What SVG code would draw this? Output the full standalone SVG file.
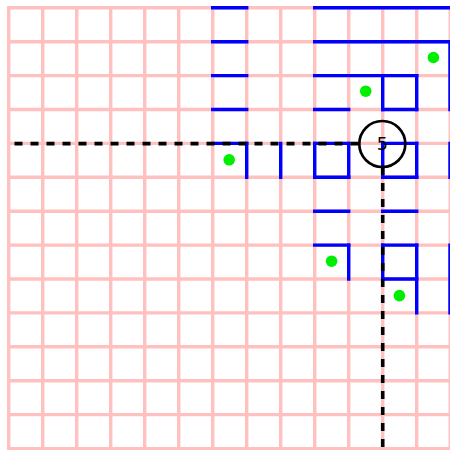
<svg xmlns="http://www.w3.org/2000/svg" width="450" height="450" viewBox="0 0 450 450">
<style>
.g{stroke:#FFC0C0;stroke-width:3.4;fill:none}
.w{stroke:#0000FF;stroke-width:3.4;fill:none;stroke-linecap:square}
.d{fill:#00EE00}
.c{stroke:#000;stroke-width:3.6;stroke-dasharray:8 8;fill:none}
</style>
<rect width="450" height="450" fill="#fff"/>
<g id="grid" class="g">
<path d="M8.7 6.3V452M42.7 6.3V452M76.7 6.3V452M110.7 6.3V452M144.7 6.3V452M178.7 6.3V452M212.7 6.3V452M246.7 6.3V452M280.7 6.3V452M314.7 6.3V452M348.7 6.3V452M382.7 6.3V452M416.7 6.3V452M450.2 6.3V452"/>
<path d="M7 7.8H452M7 41.7H452M7 75.6H452M7 109.5H452M7 143.4H452M7 177.3H452M7 211.2H452M7 245.1H452M7 279H452M7 312.9H452M7 346.8H452M7 380.7H452M7 414.6H452M7 448.7H452"/>
</g>
<g id="walls" class="w">
<path d="M212.7 7.8H246.7M314.7 7.8H452M212.7 41.7H246.7M314.7 41.7H452M212.7 75.6H246.7M314.7 75.6H416.7M212.7 109.5H246.7M314.7 109.5H348.7M382.7 109.5H416.7M212.7 143.4H246.7M314.7 143.4H348.7M382.7 143.4H416.7M314.7 177.3H348.7M382.7 177.3H416.7M314.7 211.2H348.7M382.7 211.2H416.7M314.7 245.1H348.7M382.7 245.1H416.7M382.7 279H416.7"/>
<path d="M246.7 143.4V177.3M280.7 143.4V177.3M314.7 143.4V177.3M348.7 143.4V177.3M348.7 245.1V279M382.7 75.6V109.5M382.7 143.4V177.3M382.7 245.1V279M416.7 75.6V109.5M416.7 143.4V177.3M416.7 245.1V312.9M450 41.7V109.5M450 143.4V177.3M450 245.1V312.9"/>
</g>
<g id="dots" class="d">
<circle cx="433.4" cy="57.5" r="5.8"/>
<circle cx="365.7" cy="91.2" r="5.8"/>
<circle cx="229.2" cy="159.8" r="5.8"/>
<circle cx="331.6" cy="261.2" r="5.8"/>
<circle cx="399.4" cy="295.6" r="5.8"/>
</g>
<g id="connectors" class="c">
<path d="M358.5 143.6H8"/>
<path d="M382.7 167V452"/>
</g>
<g id="node-5">
<circle cx="382.3" cy="144" r="23" fill="none" stroke="#000" stroke-width="2.7"/>
<text x="382.3" y="144" font-family="DejaVu Sans, sans-serif" font-size="17.5" text-anchor="middle" dominant-baseline="central" fill="#000">5</text>
</g>
</svg>
